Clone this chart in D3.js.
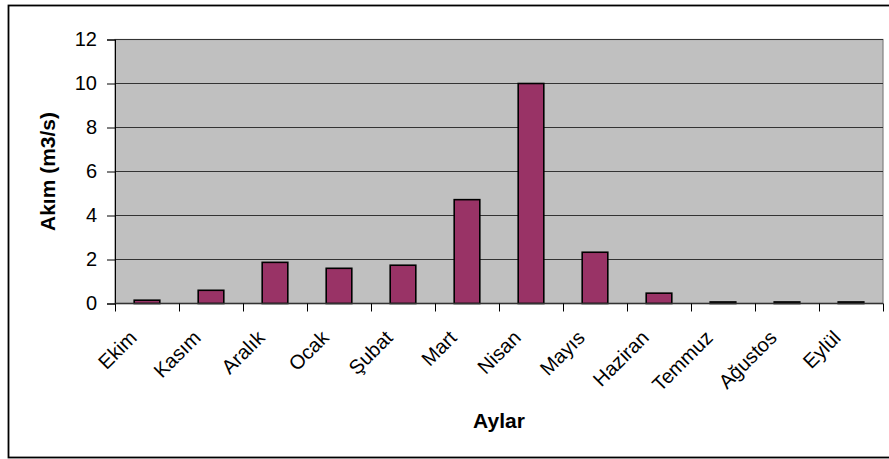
<!DOCTYPE html>
<html>
<head>
<meta charset="utf-8">
<script src="https://cdn.jsdelivr.net/npm/d3@7"></script>
<style>
  body { margin: 0; background: #fff; }
  text { font-family: Arial, "Liberation Sans", sans-serif; }
</style>
</head>
<body>
<svg width="889" height="459"></svg>
<script>
const months = ["Ekim", "Kasım", "Aralık", "Ocak", "Şubat", "Mart", "Nisan", "Mayıs", "Haziran", "Temmuz", "Ağustos", "Eylül"]
const flow = [0.15, 0.6, 1.87, 1.6, 1.74, 4.72, 10.0, 2.33, 0.47, 0.07, 0.07, 0.07]
const yTicks = [0, 2, 4, 6, 8, 10, 12]

const svg = d3.select("svg")

// outer frame
svg.append("rect")
  .attr("x", 8.5).attr("y", 5.5)
  .attr("width", 900).attr("height", 452)
  .attr("fill", "#fff")
  .attr("stroke", "#000")
  .attr("stroke-width", 1.8)

const pLeft = 115, pRight = 883, pTop = 39.5, pBottom = 303.5

const x = d3.scaleBand()
  .domain(months)
  .range([pLeft, pRight])

const y = d3.scaleLinear()
  .domain([0, 12])
  .range([pBottom, pTop])

// plot area
svg.append("rect")
  .attr("x", pLeft).attr("y", pTop)
  .attr("width", pRight - pLeft).attr("height", pBottom - pTop)
  .attr("fill", "#c0c0c0")
  .attr("stroke", "#808080")
  .attr("stroke-width", 1.2)

// gridlines
svg.append("g")
  .selectAll("line")
  .data(yTicks.filter(d => d > 0))
  .enter()
  .append("line")
  .attr("x1", pLeft).attr("x2", pRight)
  .attr("y1", d => y(d)).attr("y2", d => y(d))
  .attr("stroke", "#333")
  .attr("stroke-width", 1.2)

// bars
const bw = x.bandwidth() / 2.5
svg.append("g")
  .selectAll(".bar")
  .data(months)
  .enter()
  .append("rect")
  .classed("bar", true)
  .attr("x", (d) => x(d) + (x.bandwidth() - bw) / 2)
  .attr("width", bw)
  .attr("y", (d, i) => y(flow[i]))
  .attr("height", (d, i) => pBottom - y(flow[i]))
  .attr("fill", "#993366")
  .attr("stroke", "#000")
  .attr("stroke-width", 1.6)

// y axis
const yAxis = svg.append("g")
  .attr("transform", `translate(${pLeft},0)`)
  .call(d3.axisLeft(y).tickValues(yTicks).tickSize(8).tickPadding(10).tickFormat(d3.format("d")))
yAxis.select(".domain").attr("stroke", "#000")
yAxis.selectAll(".tick line").attr("stroke", "#000")
yAxis.selectAll("text")
  .style("font-size", "20px")
  .attr("fill", "#000")
  .attr("font-family", "Arial, 'Liberation Sans', sans-serif")

// x axis line and ticks at band edges
svg.append("line")
  .attr("x1", pLeft).attr("x2", pRight)
  .attr("y1", pBottom).attr("y2", pBottom)
  .attr("stroke", "#333")
  .attr("stroke-width", 1.5)

svg.append("g")
  .selectAll("line")
  .data(months.concat(["end"]))
  .enter()
  .append("line")
  .attr("x1", (d, i) => Math.round(pLeft + i * x.step()) + 0.5)
  .attr("x2", (d, i) => Math.round(pLeft + i * x.step()) + 0.5)
  .attr("y1", pBottom).attr("y2", pBottom + 8)
  .attr("stroke", "#000")

// category labels
svg.append("g")
  .selectAll("text")
  .data(months)
  .enter()
  .append("text")
  .attr("transform", d => `translate(${x(d) + x.bandwidth() / 2 - 9},339) rotate(-45)`)
  .attr("text-anchor", "end")
  .style("font-size", "20px")
  .text(d => d)

// axis titles
svg.append("text")
  .attr("x", (pLeft + pRight) / 2)
  .attr("y", 428)
  .attr("text-anchor", "middle")
  .style("font-size", "21px")
  .attr("font-weight", "bold")
  .text("Aylar")

svg.append("text")
  .attr("transform", `translate(55,${(pTop + pBottom) / 2}) rotate(-90)`)
  .attr("text-anchor", "middle")
  .style("font-size", "21px")
  .attr("font-weight", "bold")
  .text("Akım (m3/s)")
</script>
</body>
</html>
